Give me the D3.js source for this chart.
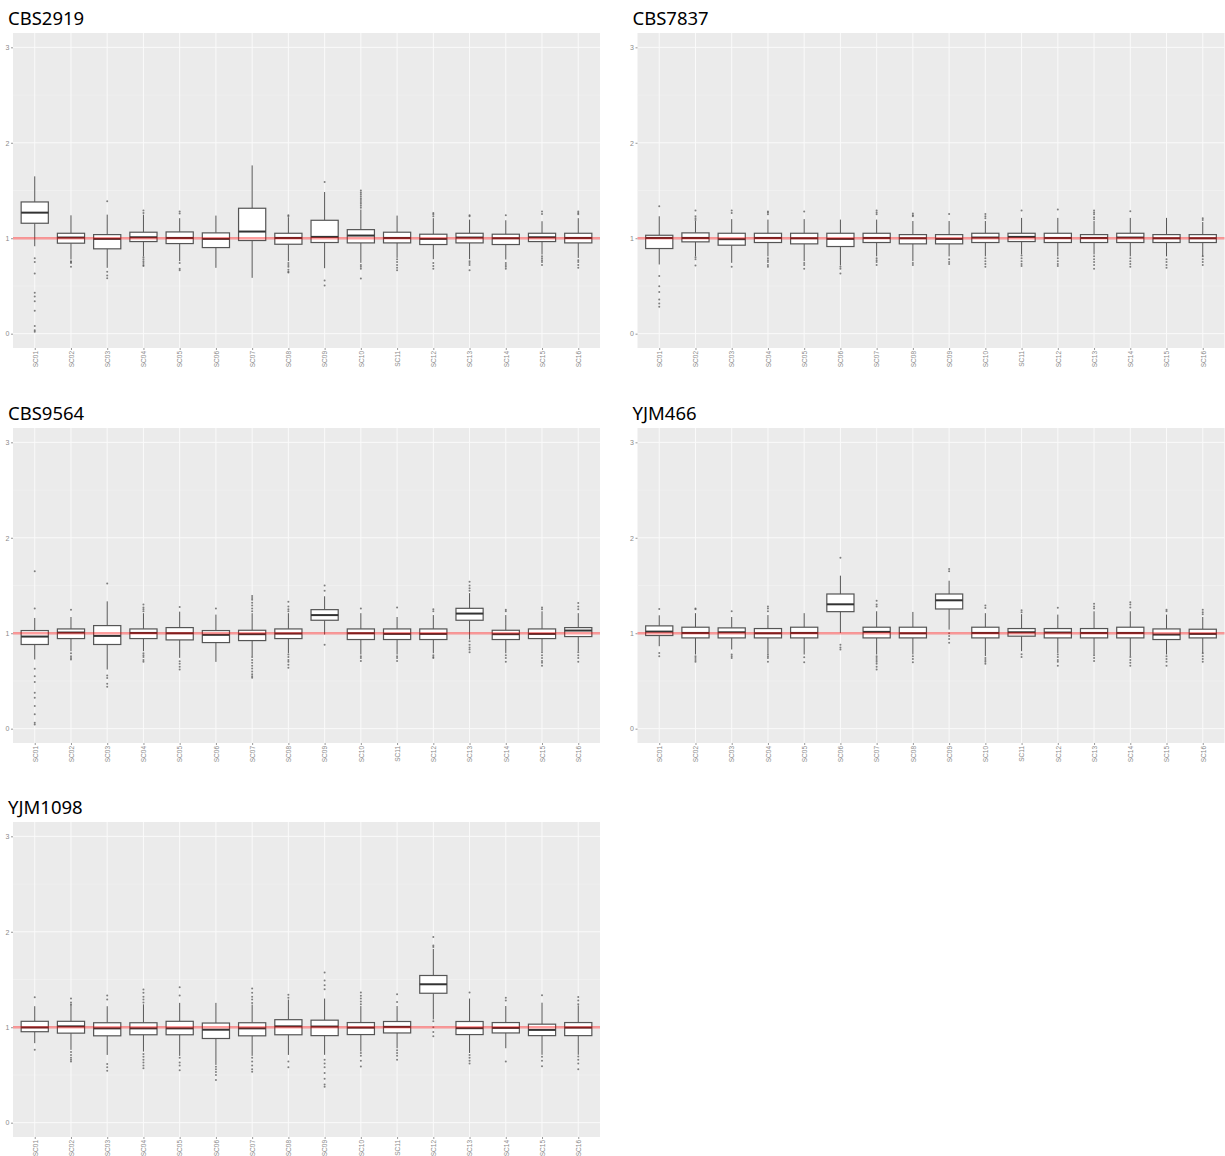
<!DOCTYPE html>
<html lang="en">
<head>
  <meta charset="UTF-8">
  <title>Chromosome copy ratio by strain</title>
  <script src="https://d3js.org/d3.v7.min.js"></script>
  <style>
    body {
      margin: 0;
      background: #fff;
    }
    .title {
      font-family: 'Noto Sans', sans-serif;
      font-size: 18.5px;
      fill: #000;
    }
    .axis text {
      font-family: 'Liberation Sans', sans-serif;
      font-size: 7px;
      fill: #8a8a8a;
    }
    .axis.xax text { font-size: 6.5px; }
    .axis line { stroke: #999; }
    .axis path { display: none; }
  </style>
</head>
<body>
  <svg id="chart" width="1225" height="1156"></svg>

  <script>
    const chroms = d3.range(1, 17).map(i => "SC" + String(i).padStart(2, "0"));
    const strains = ["CBS2919", "CBS7837", "CBS9564", "YJM466", "YJM1098"];
    const yTicks = [0, 1, 2, 3];

    // per chromosome: [lower whisker, q1, median, q3, upper whisker]
    const cbs2919Box = [
      [0.916, 1.157, 1.268, 1.38, 1.648], [0.777, 0.948, 1.007, 1.052, 1.24], [0.69, 0.889, 0.993, 1.038, 1.247],
      [0.81, 0.965, 1.01, 1.063, 1.247], [0.76, 0.944, 1.003, 1.066, 1.21], [0.69, 0.902, 0.993, 1.056, 1.237],
      [0.585, 0.976, 1.07, 1.314, 1.763], [0.76, 0.937, 1.003, 1.052, 1.22], [0.686, 0.955, 1.014, 1.188, 1.484],
      [0.742, 0.951, 1.028, 1.09, 1.30], [0.794, 0.951, 1.003, 1.063, 1.237], [0.78, 0.934, 0.993, 1.042, 1.21],
      [0.78, 0.951, 1.007, 1.052, 1.195], [0.777, 0.934, 1.0, 1.042, 1.188], [0.829, 0.965, 1.01, 1.052, 1.178],
      [0.794, 0.951, 1.003, 1.052, 1.21]
    ];
    const cbs2919Out = [
      [0.79, 0.75, 0.63, 0.43, 0.39, 0.34, 0.24, 0.08, 0.035, 0.02], [0.76, 0.75, 0.74, 0.70], [1.387, 0.648, 0.61, 0.58],
      [1.29, 1.265, 0.80, 0.78, 0.76, 0.74, 0.72, 0.71], [1.28, 1.26, 0.74, 0.68, 0.665], [],
      [], [1.24, 1.23, 0.74, 0.72, 0.70, 0.67, 0.65, 0.64], [1.589, 0.557, 0.505],
      [1.50, 1.48, 1.46, 1.44, 1.42, 1.40, 1.38, 1.36, 1.34, 1.32, 0.72, 0.70, 0.68, 0.578], [0.78, 0.75, 0.72, 0.69, 0.665], [1.265, 1.25, 1.23, 0.74, 0.71, 0.68],
      [1.24, 1.23, 0.76, 0.74, 0.72, 0.665], [1.24, 0.74, 0.72, 0.70, 0.68], [1.28, 1.254, 0.81, 0.79, 0.77, 0.75, 0.72],
      [1.28, 1.265, 1.25, 0.77, 0.75, 0.72, 0.69]
    ];

    const cbs7837Box = [
      [0.725, 0.892, 1.003, 1.031, 1.23], [0.81, 0.962, 1.003, 1.056, 1.18], [0.742, 0.927, 0.99, 1.052, 1.20],
      [0.81, 0.955, 1.003, 1.052, 1.195], [0.76, 0.941, 1.0, 1.052, 1.20], [0.714, 0.913, 0.993, 1.052, 1.195],
      [0.81, 0.955, 1.003, 1.052, 1.195], [0.76, 0.941, 1.0, 1.038, 1.18], [0.81, 0.941, 0.993, 1.038, 1.18],
      [0.81, 0.955, 1.007, 1.052, 1.18], [0.83, 0.965, 1.014, 1.052, 1.213], [0.81, 0.955, 1.003, 1.052, 1.213],
      [0.83, 0.955, 1.003, 1.038, 1.18], [0.81, 0.955, 1.007, 1.052, 1.213], [0.81, 0.955, 1.0, 1.038, 1.213],
      [0.81, 0.955, 1.0, 1.038, 1.17]
    ];
    const cbs7837Out = [
      [1.334, 0.603, 0.498, 0.436, 0.359, 0.317, 0.282], [1.29, 1.23, 1.21, 1.19, 0.80, 0.78, 0.714], [1.29, 1.265, 0.70],
      [1.28, 1.27, 1.25, 0.79, 0.77, 0.75, 0.72, 0.70], [1.28, 0.74, 0.72, 0.68], [0.70, 0.68, 0.63],
      [1.29, 1.27, 1.25, 0.79, 0.77, 0.75, 0.72], [1.258, 1.24, 1.23, 0.74, 0.72], [1.254, 0.78, 0.75, 0.73],
      [1.254, 1.23, 1.21, 0.79, 0.76, 0.73, 0.70], [1.29, 0.82, 0.79, 0.76, 0.73, 0.71], [1.30, 0.79, 0.76, 0.73, 0.71],
      [1.29, 1.27, 1.25, 1.22, 1.20, 0.81, 0.78, 0.75, 0.72, 0.68], [1.282, 0.79, 0.76, 0.73, 0.70], [0.78, 0.75, 0.72, 0.69],
      [1.21, 1.19, 0.81, 0.78, 0.75, 0.72]
    ];

    const cbs9564Box = [
      [0.725, 0.882, 0.965, 1.028, 1.16], [0.812, 0.944, 1.007, 1.045, 1.17], [0.62, 0.882, 0.972, 1.08, 1.334],
      [0.812, 0.944, 1.003, 1.045, 1.21], [0.742, 0.93, 1.0, 1.059, 1.226], [0.70, 0.902, 0.983, 1.028, 1.195],
      [0.76, 0.923, 0.99, 1.031, 1.21], [0.79, 0.944, 0.997, 1.045, 1.21], [0.986, 1.136, 1.19, 1.247, 1.387],
      [0.777, 0.934, 1.0, 1.045, 1.21], [0.777, 0.934, 0.993, 1.045, 1.17], [0.79, 0.934, 0.993, 1.045, 1.19],
      [0.934, 1.136, 1.206, 1.261, 1.42], [0.79, 0.934, 0.99, 1.031, 1.19], [0.81, 0.944, 0.993, 1.045, 1.23],
      [0.81, 0.965, 1.028, 1.059, 1.21]
    ];
    const cbs9564Out = [
      [1.648, 1.258, 0.627, 0.55, 0.49, 0.376, 0.324, 0.237, 0.15, 0.063, 0.045], [1.247, 0.79, 0.76, 0.74, 0.725], [1.52, 0.557, 0.53, 0.47, 0.44],
      [1.30, 1.27, 1.25, 1.23, 0.79, 0.77, 0.75, 0.72, 0.70], [1.275, 0.707, 0.68, 0.65, 0.62], [1.26],
      [1.39, 1.37, 1.35, 1.32, 1.29, 1.26, 1.23, 0.75, 0.72, 0.69, 0.66, 0.63, 0.60, 0.57, 0.55, 0.533], [1.33, 1.28, 1.25, 1.23, 0.777, 0.75, 0.72, 0.70, 0.67, 0.638], [1.50, 1.446, 0.88],
      [1.258, 0.76, 0.74, 0.71], [1.27, 0.76, 0.74, 0.71], [1.25, 1.23, 0.77, 0.75, 0.74],
      [1.54, 1.50, 1.47, 1.446, 0.916, 0.88, 0.85, 0.83, 0.80], [1.247, 1.23, 0.77, 0.74, 0.70], [1.27, 1.25, 0.80, 0.77, 0.74, 0.71, 0.69, 0.66],
      [1.317, 1.28, 1.25, 0.80, 0.77, 0.74, 0.70]
    ];

    const yjm466Box = [
      [0.864, 0.976, 1.017, 1.077, 1.188], [0.777, 0.951, 1.003, 1.063, 1.21], [0.83, 0.951, 1.01, 1.056, 1.17],
      [0.79, 0.951, 1.0, 1.049, 1.19], [0.777, 0.951, 1.003, 1.063, 1.21], [1.003, 1.226, 1.303, 1.411, 1.603],
      [0.777, 0.951, 1.014, 1.063, 1.23], [0.777, 0.951, 1.0, 1.063, 1.223], [1.038, 1.254, 1.345, 1.411, 1.55],
      [0.76, 0.951, 1.003, 1.063, 1.21], [0.812, 0.969, 1.01, 1.049, 1.20], [0.79, 0.951, 1.007, 1.049, 1.195],
      [0.777, 0.951, 1.003, 1.049, 1.23], [0.76, 0.951, 1.003, 1.063, 1.23], [0.777, 0.934, 0.986, 1.045, 1.195],
      [0.79, 0.951, 0.993, 1.042, 1.17]
    ];
    const yjm466Out = [
      [1.254, 0.794, 0.76], [1.26, 1.25, 0.76, 0.74, 0.72, 0.70], [1.23, 0.777, 0.76, 0.74],
      [1.28, 1.26, 1.23, 0.78, 0.76, 0.74, 0.70], [0.749, 0.697], [1.79, 0.88, 0.85, 0.83],
      [1.34, 1.30, 1.28, 0.76, 0.74, 0.72, 0.70, 0.68, 0.65, 0.62], [0.76, 0.73, 0.697], [1.672, 1.648, 1.0, 0.97, 0.94, 0.90],
      [1.29, 1.265, 0.74, 0.72, 0.70, 0.68], [1.24, 1.22, 0.78, 0.75], [1.268, 0.777, 0.75, 0.72, 0.70, 0.66],
      [1.31, 1.28, 1.26, 0.77, 0.74, 0.71], [1.324, 1.30, 1.27, 0.75, 0.72, 0.69, 0.66], [1.247, 1.23, 0.76, 0.73, 0.70, 0.66],
      [1.247, 1.22, 1.2, 0.79, 0.76, 0.73, 0.70]
    ];

    const yjm1098Box = [
      [0.833, 0.953, 0.998, 1.062, 1.22], [0.763, 0.938, 1.009, 1.062, 1.237], [0.71, 0.91, 0.988, 1.047, 1.22],
      [0.745, 0.921, 0.988, 1.047, 1.24], [0.70, 0.921, 0.988, 1.062, 1.255], [0.605, 0.882, 0.974, 1.044, 1.255],
      [0.70, 0.91, 0.988, 1.047, 1.237], [0.71, 0.921, 1.009, 1.079, 1.29], [0.711, 0.912, 1.007, 1.074, 1.30],
      [0.746, 0.923, 0.996, 1.049, 1.222], [0.78, 0.94, 1.004, 1.06, 1.222], [1.081, 1.356, 1.45, 1.542, 1.82],
      [0.73, 0.923, 0.99, 1.06, 1.30], [0.78, 0.94, 0.993, 1.049, 1.222], [0.711, 0.912, 0.972, 1.032, 1.257],
      [0.711, 0.912, 0.996, 1.049, 1.229]
    ];
    const yjm1098Out = [
      [1.315, 0.763], [1.30, 1.26, 1.237, 0.74, 0.71, 0.68, 0.66, 0.64], [1.332, 1.29, 0.615, 0.58, 0.545],
      [1.395, 1.36, 1.32, 1.29, 1.26, 0.72, 0.69, 0.66, 0.63, 0.60, 0.57], [1.42, 1.332, 0.68, 0.63, 0.60, 0.55], [0.587, 0.56, 0.53, 0.50, 0.446],
      [1.406, 1.36, 1.32, 1.29, 1.255, 0.68, 0.64, 0.60, 0.56, 0.534], [1.34, 1.31, 0.64, 0.58], [1.574, 1.49, 1.44, 1.398, 0.658, 0.62, 0.58, 0.52, 0.46, 0.40, 0.377],
      [1.363, 1.33, 1.30, 1.27, 1.24, 0.729, 0.70, 0.65, 0.588], [1.345, 1.264, 0.76, 0.73, 0.70, 0.66], [1.944, 1.855, 1.84, 1.063, 1.0, 0.95, 0.905],
      [1.363, 0.71, 0.68, 0.65, 0.62], [1.31, 1.28, 0.64], [1.335, 0.69, 0.65, 0.59],
      [1.317, 1.28, 1.24, 0.694, 0.66, 0.62, 0.56]
    ];

    const boxes = [cbs2919Box, cbs7837Box, cbs9564Box, yjm466Box, yjm1098Box];
    const outliers = [cbs2919Out, cbs7837Out, cbs9564Out, yjm466Out, yjm1098Out];

    const panelW = 587, panelH = 315;
    const colX = [13, 637.5];
    const rowY = [33, 428, 822];

    const svg = d3.select("#chart");

    const x = d3.scalePoint().domain(chroms).range([0, panelW]).padding(0.6);
    const y = d3.scaleLinear().domain([-0.15, 3.15]).range([panelH, 0]);
    const bw = x.step() * 0.75;

    strains.forEach((name, i) => {
      const px = colX[i % 2], py = rowY[Math.floor(i / 2)];
      const g = svg.append("g").attr("transform", `translate(${px},${py})`);

      svg.append("text").attr("class", "title")
        .attr("x", px - 5).attr("y", py - 8).text(name);

      g.append("rect").attr("width", panelW).attr("height", panelH).attr("fill", "#ebebeb");

      // grid
      g.selectAll(".minor").data([0.5, 1.5, 2.5]).join("line")
        .attr("x1", 0).attr("x2", panelW)
        .attr("y1", d => y(d)).attr("y2", d => y(d))
        .attr("stroke", "#f4f4f4").attr("stroke-width", 0.6);
      g.selectAll(".major").data(yTicks).join("line")
        .attr("x1", 0).attr("x2", panelW)
        .attr("y1", d => y(d)).attr("y2", d => y(d))
        .attr("stroke", "#fafafa").attr("stroke-width", 1);
      g.selectAll(".vgrid").data(chroms).join("line")
        .attr("x1", d => x(d)).attr("x2", d => x(d))
        .attr("y1", 0).attr("y2", panelH)
        .attr("stroke", "#fafafa").attr("stroke-width", 1);

      const stats = boxes[i].map((b, j) => ({ c: chroms[j], lo: b[0], q1: b[1], med: b[2], q3: b[3], hi: b[4], out: outliers[i][j] }));

      const bg = g.selectAll(".box").data(stats).join("g");
      bg.append("line")
        .attr("x1", d => x(d.c)).attr("x2", d => x(d.c))
        .attr("y1", d => y(d.hi)).attr("y2", d => y(d.q3))
        .attr("stroke", "#555").attr("stroke-width", 1);
      bg.append("line")
        .attr("x1", d => x(d.c)).attr("x2", d => x(d.c))
        .attr("y1", d => y(d.q1)).attr("y2", d => y(d.lo))
        .attr("stroke", "#555").attr("stroke-width", 1);
      bg.append("rect")
        .attr("x", d => x(d.c) - bw / 2).attr("width", bw)
        .attr("y", d => y(d.q3)).attr("height", d => y(d.q1) - y(d.q3))
        .attr("fill", "#fff").attr("stroke", "#555").attr("stroke-width", 1.2);
      bg.append("line")
        .attr("x1", d => x(d.c) - bw / 2).attr("x2", d => x(d.c) + bw / 2)
        .attr("y1", d => y(d.med)).attr("y2", d => y(d.med))
        .attr("stroke", "#333").attr("stroke-width", 2);
      bg.selectAll("circle").data(d => d.out.map(v => [d.c, v])).join("circle")
        .attr("cx", d => x(d[0])).attr("cy", d => y(d[1])).attr("r", 1)
        .attr("fill", "#555").attr("opacity", 0.75);

      // reference line at 1
      g.append("line")
        .attr("x1", 0).attr("x2", panelW)
        .attr("y1", y(1)).attr("y2", y(1))
        .attr("stroke", "red").attr("stroke-opacity", 0.38).attr("stroke-width", 2.5);

      g.append("g").attr("class", "axis")
        .call(d3.axisLeft(y).tickValues(yTicks).tickFormat(d3.format("d")).tickSize(2).tickPadding(1.5));

      const xa = g.append("g").attr("class", "axis xax")
        .attr("transform", `translate(0,${panelH})`)
        .call(d3.axisBottom(x).tickSize(2).tickPadding(2));
      xa.selectAll("text")
        .attr("transform", "rotate(-90)")
        .attr("text-anchor", "end")
        .attr("x", -3).attr("y", 0).attr("dy", "0.35em");
    });
  </script>
</body>
</html>
